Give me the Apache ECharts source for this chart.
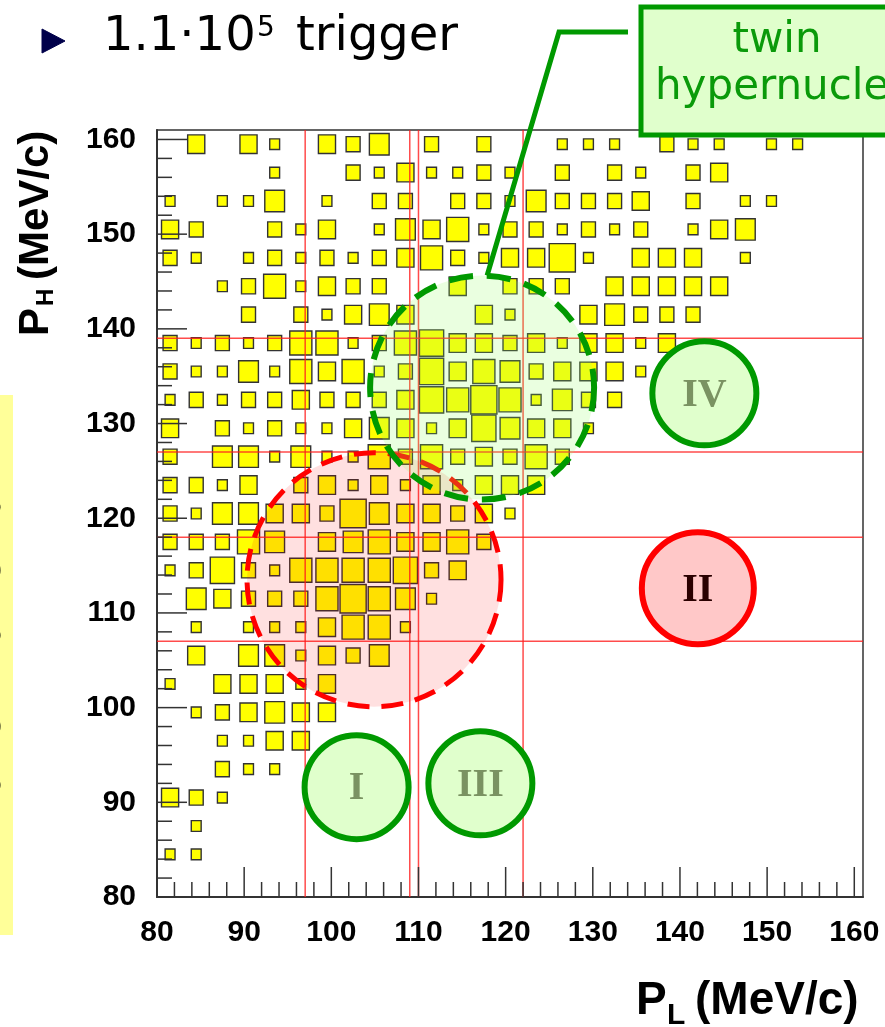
<!DOCTYPE html>
<html>
<head>
<meta charset="utf-8">
<script src="https://cdn.jsdelivr.net/npm/echarts@6/dist/echarts.min.js"></script>
<style>
  html, body { margin: 0; padding: 0; background: #ffffff; }
  #chart { width: 885px; height: 1027px; }
</style>
</head>
<body>
<div id="chart"></div>
<script>
// Histogram binning (MeV/c)
const axisMin = 80;
const axisMax = 161;
const binWidth = 3;

// P_L bin centres, left to right
const pLCenters = [81.5, 84.5, 87.5, 90.5, 93.5, 96.5, 99.5, 102.5, 105.5, 108.5, 111.5, 114.5, 117.5, 120.5,
  123.5, 126.5, 129.5, 132.5, 135.5, 138.5, 141.5, 144.5, 147.5, 150.5, 153.5, 156.5, 159.5];

// P_H bin centres, top row first
const pHCenters = [159.5, 156.5, 153.5, 150.5, 147.5, 144.5, 141.5, 138.5, 135.5, 132.5, 129.5, 126.5, 123.5,
  120.5, 117.5, 114.5, 111.5, 108.5, 105.5, 102.5, 99.5, 96.5, 93.5, 90.5, 87.5, 84.5, 81.5];

// Entries per bin; one row per P_H bin (same order as pHCenters), columns follow pLCenters
const counts = [
  [0,3,0,3,1,0,3,2,4,0,2,0,2,0,0,1,1,1,0,2,1,1,0,1,1,0,0],
  [0,0,0,0,1,0,0,2,1,3,1,1,2,1,0,2,0,2,1,0,2,3,0,0,0,0,0],
  [1,0,1,1,4,0,1,0,2,2,0,2,2,1,4,2,2,2,3,0,2,0,1,1,0,0,0],
  [3,2,0,0,2,1,3,0,1,4,3,5,1,2,2,1,2,1,2,0,1,3,4,0,0,0,0],
  [2,1,0,1,2,1,2,1,2,3,5,2,1,3,3,7,1,0,3,3,3,0,1,0,0,0,0],
  [0,0,1,2,5,1,3,2,2,0,0,3,0,2,2,2,0,3,3,3,3,3,0,0,0,0,0],
  [0,0,0,2,0,2,1,3,4,3,0,0,3,1,0,0,3,4,2,2,2,0,0,0,0,0,0],
  [2,1,2,1,2,5,5,1,2,5,6,3,3,2,3,1,3,3,1,3,0,0,0,0,0,0,0],
  [2,1,1,4,1,5,3,5,1,2,6,3,5,4,2,3,3,3,1,0,0,0,0,0,0,0,0],
  [1,2,1,2,2,3,2,2,2,3,6,5,7,5,1,4,2,2,0,0,0,0,0,0,0,0,0],
  [3,0,2,1,2,1,1,3,4,3,1,3,6,4,3,3,1,0,0,0,0,0,0,0,0,0,0],
  [2,0,4,4,1,4,1,1,5,2,5,2,3,2,5,2,0,0,0,0,0,0,0,0,0,0,0],
  [2,2,1,3,0,2,3,1,3,1,3,1,3,3,3,0,0,0,0,0,0,0,0,0,0,0,0],
  [2,1,4,4,3,3,2,7,4,3,3,2,3,1,0,0,0,0,0,0,0,0,0,0,0,0,0],
  [2,2,2,5,4,0,3,4,5,3,3,5,2,0,0,0,0,0,0,0,0,0,0,0,0,0,0],
  [1,2,6,2,1,5,5,5,5,6,2,3,0,0,0,0,0,0,0,0,0,0,0,0,0,0,0],
  [0,4,3,2,2,2,5,7,5,4,1,0,0,0,0,0,0,0,0,0,0,0,0,0,0,0,0],
  [0,1,0,1,1,1,3,5,5,1,0,0,0,0,0,0,0,0,0,0,0,0,0,0,0,0,0],
  [0,3,0,4,4,1,3,2,4,0,0,0,0,0,0,0,0,0,0,0,0,0,0,0,0,0,0],
  [1,0,3,3,3,1,3,0,0,0,0,0,0,0,0,0,0,0,0,0,0,0,0,0,0,0,0],
  [0,1,2,3,4,3,3,0,0,0,0,0,0,0,0,0,0,0,0,0,0,0,0,0,0,0,0],
  [0,0,1,1,3,3,0,0,0,0,0,0,0,0,0,0,0,0,0,0,0,0,0,0,0,0,0],
  [0,0,2,1,1,0,0,0,0,0,0,0,0,0,0,0,0,0,0,0,0,0,0,0,0,0,0],
  [3,2,1,0,0,0,0,0,0,0,0,0,0,0,0,0,0,0,0,0,0,0,0,0,0,0,0],
  [0,1,0,0,0,0,0,0,0,0,0,0,0,0,0,0,0,0,0,0,0,0,0,0,0,0,0],
  [1,1,0,0,0,0,0,0,0,0,0,0,0,0,0,0,0,0,0,0,0,0,0,0,0,0,0],
  [0,0,0,0,0,0,0,0,0,0,0,0,0,0,0,0,0,0,0,0,0,0,0,0,0,0,0]
];

// Axis ticks and labels
const tickLabels = [80, 90, 100, 110, 120, 130, 140, 150, 160];
const majorTicks = [80, 90, 100, 110, 120, 130, 140, 150, 160];
const minorTicks = [82, 84, 86, 88, 92, 94, 96, 98, 102, 104, 106, 108, 112, 114, 116, 118, 122, 124, 126, 128,
  132, 134, 136, 138, 142, 144, 146, 148, 152, 154, 156, 158];

// Momentum cut lines
const cutsPL = [97, 109, 110, 122];
const cutsPH = [107, 118, 127, 139];

// Region markers: centre in (P_L, P_H)
const regionLabels = ['I', 'II', 'III', 'IV'];
const regionCentersPL = [102.9, 142.05, 117.1, 142.8];
const regionCentersPH = [91.6, 112.6, 92.0, 133.2];

const maxCount = 7;
const SANS = '"Liberation Sans", Arial, sans-serif';
const DEJAVU = '"DejaVu Sans", Verdana, sans-serif';
const SERIF = '"Liberation Serif", "Times New Roman", serif';

const boxData = [];
counts.forEach((row, j) => {
  row.forEach((n, i) => {
    if (n > 0) boxData.push([pLCenters[i], pHCenters[j], n]);
  });
});

function boxItem(params, api) {
  const c = api.coord([api.value(0), api.value(1)]);
  const full = api.size([binWidth, binWidth]);
  const f = Math.sqrt(api.value(2) / maxCount);
  const w = full[0] * f, h = full[1] * f;
  return {
    type: 'rect',
    shape: { x: c[0] - w / 2, y: c[1] - h / 2, width: w, height: h },
    style: { fill: '#ffff00', stroke: '#333333', lineWidth: 1.4 }
  };
}

// vertical lines read the P_L value (dim 0), horizontal lines the P_H value (dim 1)
function cutLine(vertical) {
  return function (params, api) {
    const v = api.value(vertical ? 0 : 1);
    const a = vertical ? api.coord([v, axisMin]) : api.coord([axisMin, v]);
    const b = vertical ? api.coord([v, axisMax]) : api.coord([axisMax, v]);
    return {
      type: 'line',
      shape: { x1: a[0], y1: a[1], x2: b[0], y2: b[1] },
      style: { stroke: 'rgba(255,30,30,0.8)', lineWidth: 1.5 }
    };
  };
}

function tickMark(onX, len) {
  return function (params, api) {
    const v = api.value(onX ? 0 : 1);
    const p = onX ? api.coord([v, axisMin]) : api.coord([axisMin, v]);
    const q = onX ? [p[0], p[1] - len] : [p[0] + len, p[1]];
    return {
      type: 'line',
      shape: { x1: p[0], y1: p[1], x2: q[0], y2: q[1] },
      style: { stroke: '#333333', lineWidth: 1.5 }
    };
  };
}

const chart = echarts.init(document.getElementById('chart'), null, { renderer: 'canvas' });

const axisCommon = {
  type: 'value',
  min: axisMin,
  max: axisMax,
  interval: 10,
  axisLine: { show: true, lineStyle: { color: '#333333', width: 2 } },
  axisTick: { show: false },
  splitLine: { show: false },
  axisLabel: {
    fontFamily: SANS, fontWeight: 'bold', fontSize: 30, color: '#000000', margin: 21,
    formatter: v => (tickLabels.indexOf(v) >= 0 ? String(v) : '')
  }
};

chart.setOption({
  animation: false,
  backgroundColor: '#ffffff',
  grid: {
    left: 157, right: 22, top: 130, bottom: 130,
    show: true, borderColor: '#333333', borderWidth: 1.5, backgroundColor: 'transparent'
  },
  xAxis: Object.assign({}, axisCommon),
  yAxis: Object.assign({}, axisCommon),
  series: [
    { type: 'custom', name: 'entries', renderItem: boxItem, data: boxData, z: 2 },
    { type: 'custom', name: 'P_L cuts', renderItem: cutLine(true), data: cutsPL.map(v => [v, axisMin]), z: 3 },
    { type: 'custom', name: 'P_H cuts', renderItem: cutLine(false), data: cutsPH.map(v => [axisMin, v]), z: 3 },
    { type: 'custom', renderItem: tickMark(true, 30), data: majorTicks.map(v => [v, axisMin]), z: 4 },
    { type: 'custom', renderItem: tickMark(true, 15), data: minorTicks.map(v => [v, axisMin]), z: 4 },
    { type: 'custom', renderItem: tickMark(false, 30), data: majorTicks.map(v => [axisMin, v]), z: 4 },
    { type: 'custom', renderItem: tickMark(false, 15), data: minorTicks.map(v => [axisMin, v]), z: 4 }
  ]
});

const toPx = (pl, ph) => chart.convertToPixel({ gridIndex: 0 }, [pl, ph]);

const lowerBand = toPx(104.9, 113.5);   // selected region around the cut crossing
const twinBand = toPx(117.3, 133.8);    // twin hypernuclei region

const graphics = [];

// dashed selection regions
graphics.push({
  type: 'circle', z: 20,
  shape: { cx: lowerBand[0], cy: lowerBand[1], r: 127 },
  style: { fill: 'rgba(255,0,0,0.12)', stroke: '#ff0000', lineWidth: 5, lineDash: [22, 12] }
});
graphics.push({
  type: 'circle', z: 21,
  shape: { cx: twinBand[0], cy: twinBand[1], r: 112 },
  style: { fill: 'rgba(150,255,100,0.2)', stroke: '#009900', lineWidth: 6, lineDash: [24, 14] }
});

// leader line to the twin box
graphics.push({
  type: 'polyline', z: 22,
  shape: { points: [[twinBand[0] + 5, twinBand[1] - 112], [559, 32], [628, 32]] },
  style: { stroke: '#009900', lineWidth: 5, fill: null }
});

// twin hypernuclei box
graphics.push({
  type: 'rect', z: 23,
  shape: { x: 641, y: 7, width: 300, height: 128 },
  style: { fill: '#e0ffcc', stroke: '#009900', lineWidth: 5 }
});
graphics.push({
  type: 'text', z: 24,
  style: { text: 'twin', x: 777, y: 41, font: '42px ' + DEJAVU, fill: '#0a9a0a', textAlign: 'center', textVerticalAlign: 'middle' }
});
graphics.push({
  type: 'text', z: 24,
  style: { text: 'hypernuclei', x: 655, y: 88, font: '42px ' + DEJAVU, fill: '#0a9a0a', textAlign: 'left', textVerticalAlign: 'middle' }
});

// region markers
regionLabels.forEach((lab, k) => {
  const c = toPx(regionCentersPL[k], regionCentersPH[k]);
  const isRed = lab === 'II';
  graphics.push({
    type: 'circle', z: 25,
    shape: { cx: c[0], cy: c[1], r: isRed ? 56 : 52 },
    style: { fill: isRed ? '#ffc8c8' : '#e0ffcc', stroke: isRed ? '#ff0000' : '#009900', lineWidth: 6 }
  });
  graphics.push({
    type: 'text', z: 26,
    style: {
      text: lab, x: c[0], y: c[1] + 2, font: 'bold 40px ' + SERIF,
      fill: isRed ? '#2a0000' : '#7a9262', textAlign: 'center', textVerticalAlign: 'middle'
    }
  });
});

// header line
graphics.push({
  type: 'polygon', z: 30,
  shape: { points: [[42, 29], [42, 53], [65, 41]] },
  style: { fill: '#00004a', stroke: '#00004a', lineWidth: 1 }
});
graphics.push({
  type: 'text', z: 30,
  style: { text: '1.1·10', x: 103, y: 38, font: '48px ' + DEJAVU, fill: '#000000', textVerticalAlign: 'middle' }
});
graphics.push({
  type: 'text', z: 30,
  style: { text: '5', x: 257, y: 29, font: '28px ' + DEJAVU, fill: '#000000', textVerticalAlign: 'middle' }
});
graphics.push({
  type: 'text', z: 30,
  style: { text: 'trigger', x: 296, y: 38, font: '48px ' + DEJAVU, fill: '#000000', textVerticalAlign: 'middle' }
});

// x axis title
graphics.push({
  type: 'text', z: 30,
  style: { text: 'P', x: 636, y: 1001, font: 'bold 46px ' + SANS, fill: '#000000', textVerticalAlign: 'middle' }
});
graphics.push({
  type: 'text', z: 30,
  style: { text: 'L', x: 667, y: 1016, font: 'bold 30px ' + SANS, fill: '#000000', textVerticalAlign: 'middle' }
});
graphics.push({
  type: 'text', z: 30,
  style: { text: '(MeV/c)', x: 695, y: 1001, font: 'bold 46px ' + SANS, fill: '#000000', textVerticalAlign: 'middle' }
});

// y axis title (reads bottom to top)
graphics.push({
  type: 'group', z: 30, x: 36, y: 336, rotation: Math.PI / 2,
  children: [
    { type: 'text', z: 30, style: { text: 'P', x: 0, y: 0, font: 'bold 42px ' + SANS, fill: '#000000', textVerticalAlign: 'middle' } },
    { type: 'text', z: 30, style: { text: 'H', x: 30, y: 10, font: 'bold 24px ' + SANS, fill: '#000000', textVerticalAlign: 'middle' } },
    { type: 'text', z: 30, style: { text: '(MeV/c)', x: 56, y: 0, font: 'bold 42px ' + SANS, fill: '#000000', textVerticalAlign: 'middle' } }
  ]
});

// side note strip at the page edge
graphics.push({
  type: 'rect', z: 1,
  shape: { x: 0, y: 395, width: 13, height: 540 },
  style: { fill: '#ffff99' }
});
graphics.push({
  type: 'group', z: 5, x: -10, y: 680, rotation: Math.PI / 2,
  children: [
    { type: 'text', z: 5, style: { text: 'with lower momentum', x: 0, y: 0, font: '40px ' + DEJAVU, fill: '#000000', textAlign: 'center', textVerticalAlign: 'middle' } }
  ]
});

chart.setOption({ graphic: graphics });
</script>
</body>
</html>
